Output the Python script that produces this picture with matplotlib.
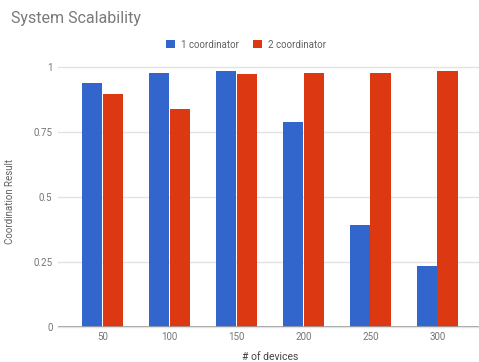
import matplotlib
matplotlib.use("Agg")
import matplotlib.pyplot as plt
import numpy as np

categories = ["50", "100", "150", "200", "250", "300"]
series_names = ["1 coordinator", "2 coordinator"]
one_coord = [0.936, 0.977, 0.983, 0.789, 0.392, 0.235]
two_coord = [0.895, 0.837, 0.971, 0.977, 0.977, 0.983]
yticks = [0, 0.25, 0.5, 0.75, 1]
ytick_labels = ["0", "0.25", "0.5", "0.75", "1"]

plt.rcParams['font.family'] = ['Roboto', 'DejaVu Sans']

W, H = 479, 362
fig = plt.figure(figsize=(W / 100, H / 100), dpi=100)
ax = fig.add_axes([58 / W, 1 - 326.7 / H, 1 - 58 / W, (326.7 - 66.7) / H])

x = np.arange(len(categories))
bw = 0.305
off = 0.155
ax.bar(x - off, one_coord, bw, color="#3366CC", label=series_names[0], zorder=3)
ax.bar(x + off, two_coord, bw, color="#DC3912", label=series_names[1], zorder=3)

ax.set_xlim(-0.665, 5.624)
ax.set_ylim(0, 1.0)
ax.set_yticks(yticks)
ax.set_yticklabels(ytick_labels)
ax.set_xticks(x)
ax.set_xticklabels(categories)
for s in ax.spines.values():
    s.set_visible(False)
ax.grid(axis="y", color="#e3e3e3", linewidth=1, zorder=0)
for gl in ax.get_ygridlines():
    gl.set_clip_on(False)
ax.axhline(0, color="#9e9e9e", linewidth=1.2, zorder=4)
ax.tick_params(axis="both", length=0, colors="#757575", labelsize=7)
ax.tick_params(axis="y", pad=4)
ax.tick_params(axis="x", pad=4)

ax.set_ylabel("Coordination Result", fontsize=7, color="#616161", labelpad=18)
ax.yaxis.set_label_coords(-(58 - 15) / (W - 58), (326.7 - 201.7) / 260)
ax.set_xlabel("# of devices", fontsize=7.5, color="#424242", va="center")
ax.xaxis.set_label_coords((270 - 58) / (W - 58), -(356.5 - 326.7) / 260)

fig.text(11 / W, 1 - 19 / H, "System Scalability", fontsize=11.5, color="#7a7a7a",
         va="center", ha="left")

leg = fig.legend(loc="center", bbox_to_anchor=(246 / W, 1 - 44.5 / H), ncol=2,
                 frameon=False, fontsize=7, handlelength=0.9, handleheight=0.9,
                 handletextpad=0.6, columnspacing=1.5, labelcolor="#616161")

fig.savefig("out.png", dpi=100)
